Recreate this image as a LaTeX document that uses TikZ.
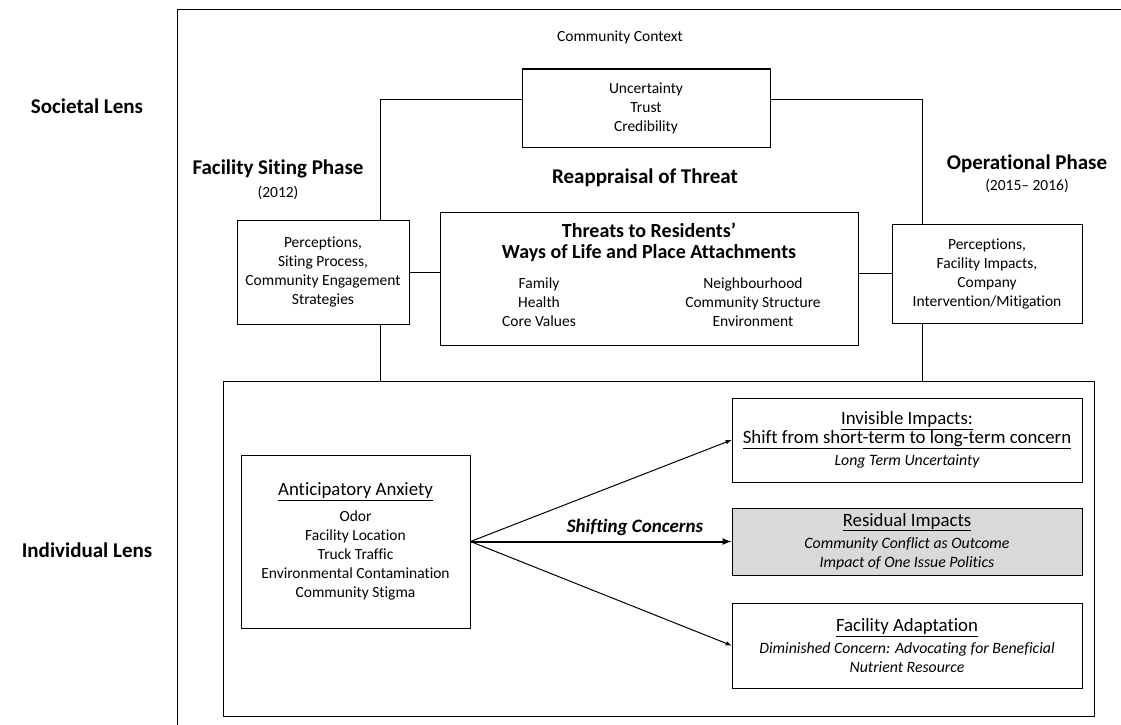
\documentclass[tikz,border=0pt]{standalone}
\usepackage{fontspec}
\setmainfont{Carlito}[RawFeature=-liga]
\usetikzlibrary{positioning,arrows,calc}

\tikzset{
  box/.style={draw, line width=1pt, inner sep=0pt},
  txt/.style={align=center, font=\fontsize{15.5}{19}\selectfont},
  head/.style={align=center, font=\fontsize{21}{24}\selectfont\bfseries},
  ttl/.style={align=center, font=\fontsize{18.8}{21}\selectfont},
  note/.style={align=center, font=\fontsize{15.8}{19}\selectfont\itshape},
}

\begin{document}
\begin{tikzpicture}[>=latex, x=1pt, y=-1pt, line width=1pt]
\useasboundingbox (0,0) rectangle (1121,725);
\draw (1121,10) -- (177,10) -- (177,725);

\node[head] (soc) at (87,106) {Societal Lens};
\node[head] (ind) at (87,550) {Individual Lens};

\node[txt] (ctx) at (620,37) {Community Context};
\node[box, txt, minimum width=248pt, minimum height=78pt] (unc) at (646,108) {Uncertainty\\Trust\\Credibility};

\node[txt] (siting) at (278,180) {{\fontsize{21}{24}\selectfont\bfseries Facility Siting Phase}\\[4pt](2012)};
\node[txt] (oper) at (1027,174) {{\fontsize{21}{24}\selectfont\bfseries Operational Phase}\\[2pt](2015– 2016)};
\node[head] (reapp) at (645,178) {Reappraisal of Threat};

\node[box, txt, minimum width=172pt, minimum height=104pt] (lbox) at (323,272) {Perceptions,\\Siting Process,\\Community Engagement\\Strategies};
\node[box, minimum width=418pt, minimum height=133pt] (threats) at (649,278.5) {};
\node[head, font=\fontsize{20}{21}\selectfont\bfseries] (thrttl) at (649,242) {Threats to Residents’\\Ways of Life and Place Attachments};
\node[txt] (thrl) at (539,302) {Family\\Health\\Core Values};
\node[txt] (thrr) at (753,302) {Neighbourhood\\Community Structure\\Environment};
\node[box, txt, minimum width=190pt, minimum height=99pt] (rbox) at (987,273.5) {Perceptions,\\Facility Impacts,\\Company\\Intervention/Mitigation};

\node[box, minimum width=871pt, minimum height=335pt] (lower) at (658.5,548.5) {};

\node[box, txt, minimum width=229pt, minimum height=173pt] (anx) at (355.5,541.5) {{\fontsize{18.8}{21}\selectfont\underline{Anticipatory Anxiety}}\\[7pt]Odor\\Facility Location\\Truck Traffic\\Environmental Contamination\\Community Stigma};
\node[box, note, minimum width=350pt, minimum height=84pt] (inv) at (907,440) {{\fontsize{18.8}{21}\selectfont\upshape\underline{Invisible Impacts:}}\\{\fontsize{18.8}{21}\selectfont\upshape\underline{Shift from short-term to long-term concern}}\\[3pt]Long Term Uncertainty};
\node[box, note, fill=black!15, minimum width=350pt, minimum height=67pt] (res) at (907,541.5) {{\fontsize{18.8}{21}\selectfont\upshape\underline{Residual Impacts}}\\[3pt]Community Conflict as Outcome\\Impact of One Issue Politics};
\node[box, note, minimum width=350pt, minimum height=85pt] (adapt) at (907,645.5) {{\fontsize{18.8}{21}\selectfont\upshape\underline{Facility Adaptation}}\\[3pt]Diminished Concern: Advocating for Beneficial\\Nutrient Resource};

\coordinate (ljoin) at (380,99);
\coordinate (rjoin) at (922,99);
\draw (unc.west |- ljoin) -- (ljoin) -- (ljoin |- lbox.north);
\draw (ljoin |- lbox.south) -- (ljoin |- lower.north);
\draw (unc.east |- rjoin) -- (rjoin) -- (rjoin |- rbox.north);
\draw (rjoin |- rbox.south) -- (rjoin |- lower.north);
\draw (lbox.east) -- (lbox.east -| threats.west);
\draw (threats.east |- rbox.west) -- (rbox.west);

\draw [->] (anx.east) -- (inv.west);
\draw [->, line width=2pt] (anx.east) -- node[above=1pt, pos=0.63, font=\fontsize{19}{22}\selectfont\bfseries\itshape]{Shifting Concerns} (res.west);
\draw [->] (anx.east) -- (adapt.west);
\end{tikzpicture}
\end{document}
